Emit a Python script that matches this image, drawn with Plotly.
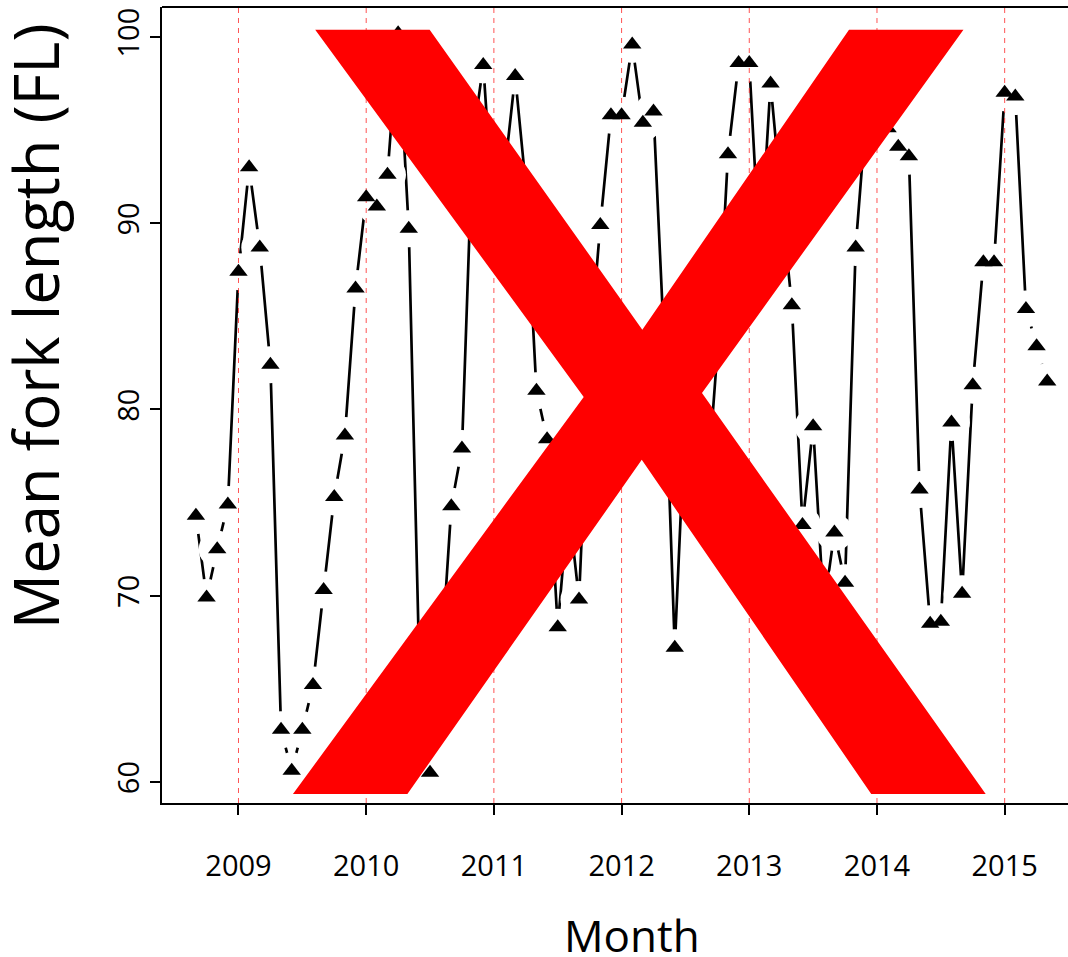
import plotly.graph_objects as go

# ---- data ----
start_year = 2008
start_month = 9  # first observation: September 2008
mean_fl = [
    74.3, 69.9, 72.5, 74.9, 87.4, 93.0, 88.7, 82.4, 62.8, 60.6,
    62.8, 65.2, 70.3, 75.3, 78.6, 86.5, 91.4, 90.9, 92.6, 100.2,
    89.7, 66.0, 60.5, 66.0, 74.8, 77.9, 94.4, 98.5, 90.0, 92.7,
    97.9, 92.0, 81.0, 78.4, 68.3, 75.0, 69.8, 83.0, 89.9, 95.8,
    95.8, 99.6, 95.4, 96.0, 83.5, 67.2, 80.0, 77.0, 75.4, 83.1,
    93.7, 98.6, 98.6, 88.0, 97.5, 91.3, 85.6, 73.8, 79.1, 69.3,
    73.4, 70.7, 88.7, 96.0, 96.5, 95.1, 94.1, 93.6, 75.7, 68.5,
    68.6, 79.3, 70.1, 81.3, 87.9, 87.9, 97.0, 96.8, 85.4, 83.4,
    81.5,
]
year_ticks = [2009, 2010, 2011, 2012, 2013, 2014, 2015]
fl_ticks = [60, 70, 80, 90, 100]
x_range = [2008.401, 2015.496]
y_range = [58.87, 101.61]

# decimal-year month positions
months = []
for k in range(len(mean_fl)):
    m0 = start_month - 1 + k
    months.append(start_year + (m0 // 12) + (m0 % 12) / 12.0)

FONT = "Open Sans"

fig = go.Figure()

# connecting line (type = "b" style)
fig.add_trace(go.Scatter(x=months, y=mean_fl, mode="lines",
                         line=dict(color="black", width=2.7),
                         hoverinfo="skip", showlegend=False))
# white gaps around the points
fig.add_trace(go.Scatter(x=months, y=mean_fl, mode="markers",
                         marker=dict(symbol="circle", size=37, color="white",
                                     line=dict(width=0)),
                         hoverinfo="skip", showlegend=False))
# red dashed year lines
gx, gy = [], []
for yr in year_ticks:
    gx += [yr, yr, None]
    gy += [y_range[0], y_range[1], None]
fig.add_trace(go.Scatter(x=gx, y=gy, mode="lines",
                         line=dict(color="rgba(255,40,40,0.8)", width=1, dash="5px,5px"),
                         hoverinfo="skip", showlegend=False))
# points
fig.add_trace(go.Scatter(x=months, y=mean_fl, mode="markers",
                         marker=dict(symbol="triangle-up", size=16, color="black",
                                     line=dict(width=0)),
                         showlegend=False))

fig.update_layout(
    width=1068, height=957,
    margin=dict(l=162, r=0, t=7, b=154),
    paper_bgcolor="white", plot_bgcolor="white",
    font=dict(family=FONT, color="black"),
    xaxis=dict(range=x_range, tickmode="array", tickvals=year_ticks,
               ticktext=[str(v) for v in year_ticks],
               ticks="outside", ticklen=10, tickwidth=1.5, tickcolor="black",
               showline=True, linecolor="black", linewidth=1.8,
               showgrid=False, zeroline=False,
               tickfont=dict(size=29, family=FONT), ticklabelstandoff=26),
    yaxis=dict(range=y_range, tickmode="array", tickvals=fl_ticks,
               ticktext=[str(v) for v in fl_ticks], tickangle=-90,
               ticks="outside", ticklen=10, tickwidth=1.5, tickcolor="black",
               showline=True, linecolor="black", linewidth=1.8,
               showgrid=False, zeroline=False,
               tickfont=dict(size=29, family=FONT), ticklabelstandoff=0),
    shapes=[dict(type="line", xref="paper", yref="paper", x0=0, x1=1, y0=1, y1=1,
                 line=dict(color="black", width=1.8))],
    annotations=[
        dict(text="Month", xref="paper", yref="paper", x=0.5188, y=-0.1658,
             xanchor="center", yanchor="middle", showarrow=False,
             font=dict(size=44, family=FONT, color="black")),
        dict(text="Mean fork length (FL)", xref="paper", yref="paper",
             x=-0.1402, y=0.5990, xanchor="center", yanchor="middle",
             textangle=-90, showarrow=False,
             font=dict(size=61.5, family=FONT, color="black")),
        dict(text="X", xref="paper", yref="paper", x=0.5259, y=0.495,
             xanchor="center", yanchor="middle", showarrow=False,
             font=dict(size=1111, family="Liberation Sans", color="#ff0000")),
    ],
)

fig.write_html("out.html")
